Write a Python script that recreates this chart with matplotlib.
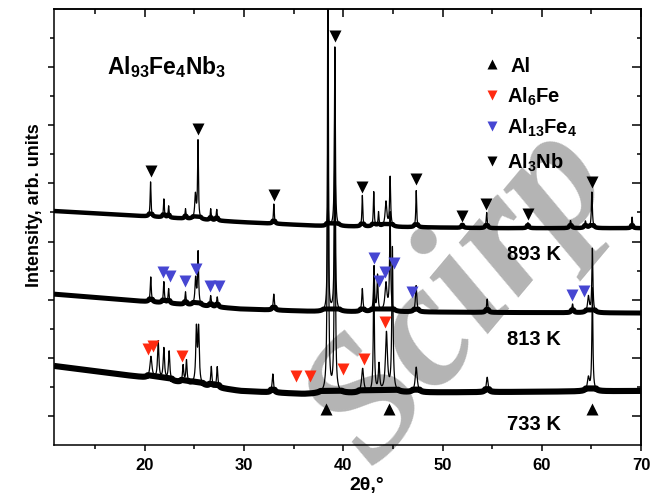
import numpy as np
import matplotlib
matplotlib.use("Agg")
import matplotlib.pyplot as plt
from matplotlib.ticker import FixedLocator

plt.rcParams['font.family'] = ['Liberation Sans', 'DejaVu Sans']
plt.rcParams['font.weight'] = 'bold'
plt.rcParams['mathtext.fontset'] = 'custom'
plt.rcParams['mathtext.rm'] = 'Liberation Sans:bold'
plt.rcParams['mathtext.bf'] = 'Liberation Sans:bold'
plt.rcParams['mathtext.it'] = 'Liberation Sans:bold'

# ---------------- data ----------------
x_min, x_max = 10.85, 70.0

# baselines (2theta, intensity) per temperature
base_893_x = [10.85, 19.5, 29.6, 38.0, 45.0, 55.0, 70.0]
base_893_y = [8.05, 7.88, 7.67, 7.53, 7.50, 7.46, 7.46]
base_813_x = [10.85, 19.5, 29.6, 38.0, 45.0, 55.0, 70.0]
base_813_y = [5.19, 4.95, 4.68, 4.58, 4.58, 4.56, 4.54]
base_733_x = [10.85, 19.5, 29.6, 36.0, 45.0, 55.0, 70.0]
base_733_y = [2.72, 2.34, 1.86, 1.75, 1.80, 1.82, 1.86]

# peaks: position (2theta), top intensity, half width
pk_893_pos = [20.58, 21.92, 22.40, 24.10, 25.10, 25.36, 26.64, 27.25, 33.00, 38.45, 39.15,
              41.92, 43.07, 43.55, 44.30, 44.72, 47.35, 52.00, 54.45, 58.60, 62.90, 64.40,
              65.05, 69.10]
pk_893_top = [9.05, 8.46, 8.22, 8.12, 8.60, 10.43, 8.12, 8.10, 8.29, 8.40, 13.69,
              8.58, 8.70, 8.00, 8.36, 9.20, 8.75, 7.62, 8.00, 7.65, 7.72, 7.70,
              8.70, 7.84]
pk_893_w = [0.05, 0.05, 0.05, 0.05, 0.08, 0.05, 0.05, 0.06, 0.05, 0.05, 0.05,
            0.05, 0.05, 0.05, 0.10, 0.06, 0.05, 0.08, 0.06, 0.08, 0.08, 0.08,
            0.06, 0.05]

pk_813_pos = [20.60, 21.92, 22.40, 24.10, 25.12, 25.37, 26.64, 27.30, 33.00, 38.45, 39.15,
              41.92, 43.10, 43.45, 44.30, 44.72, 47.34, 54.50, 63.10, 64.70, 65.10]
pk_813_top = [5.78, 5.61, 5.37, 5.26, 5.71, 6.60, 5.13, 5.09, 5.19, 12.0, 13.0,
              5.37, 6.12, 5.81, 5.54, 7.95, 5.48, 5.02, 4.85, 5.10, 6.74]
pk_813_w = [0.06, 0.06, 0.06, 0.06, 0.08, 0.06, 0.07, 0.07, 0.07, 0.05, 0.05,
            0.07, 0.06, 0.06, 0.12, 0.06, 0.08, 0.07, 0.08, 0.10, 0.06]

pk_733_pos = [20.62, 21.35, 21.92, 22.45, 23.86, 24.20, 25.20, 25.42, 26.70, 27.30, 32.90,
              38.45, 39.15, 41.95, 43.08, 43.60, 44.35, 44.95, 47.35, 54.50, 64.70, 65.10]
pk_733_top = [3.03, 3.54, 3.30, 3.20, 2.72, 2.89, 3.93, 3.93, 2.68, 2.68, 2.44,
              17.0, 11.0, 2.61, 5.90, 2.72, 3.82, 6.74, 2.67, 2.33, 2.30, 5.37]
pk_733_w = [0.12, 0.08, 0.08, 0.08, 0.07, 0.07, 0.08, 0.08, 0.07, 0.07, 0.08,
            0.055, 0.06, 0.12, 0.06, 0.08, 0.12, 0.07, 0.12, 0.10, 0.12, 0.06]

# phase markers
al_x = [38.30, 44.65, 65.10]
al_y = [1.24, 1.24, 1.24]
al6fe_x = [20.34, 20.78, 23.70, 35.27, 36.60, 40.00, 42.05, 44.25]
al6fe_y = [3.30, 3.42, 3.07, 2.36, 2.36, 2.61, 2.97, 4.22]
al13fe4_x = [21.85, 22.52, 24.10, 25.14, 26.55, 27.45, 43.14, 43.55, 44.25, 45.16, 46.90, 63.00, 64.27]
al13fe4_y = [5.94, 5.82, 5.65, 6.05, 5.47, 5.47, 6.42, 5.65, 5.94, 6.25, 5.27, 5.16, 5.31]
al3nb_x = [20.60, 25.35, 33.00, 39.15, 41.90, 47.35, 52.00, 54.40, 58.60, 65.05]
al3nb_y = [9.43, 10.87, 8.60, 14.07, 8.88, 9.15, 7.88, 8.29, 7.95, 9.05]

temps = ['893 K', '813 K', '733 K']
legend_labels = ['Al', r'$\mathregular{Al_6Fe}$', r'$\mathregular{Al_{13}Fe_4}$', r'$\mathregular{Al_3Nb}$']
sample_label = r'$\mathregular{Al_{93}Fe_4Nb_3}$'
watermark = 'Scirp'

RED = '#ff2a10'
BLUE = '#4646d2'

# ---------------- build profiles ----------------
tt = np.arange(x_min, x_max + 0.005, 0.01)

def profile(bx, by, pos, top, w):
    base = np.interp(tt, bx, by)
    y = base.copy()
    for p, t, hw in zip(pos, top, w):
        amp = t - np.interp(p, bx, by)
        y += amp * hw**2 / ((tt - p)**2 + hw**2)
    return base, y

traces = [
    profile(base_893_x, base_893_y, pk_893_pos, pk_893_top, pk_893_w),
    profile(base_813_x, base_813_y, pk_813_pos, pk_813_top, pk_813_w),
    profile(base_733_x, base_733_y, pk_733_pos, pk_733_top, pk_733_w),
]
band_lw = [3.2, 3.6, 4.4]

# ---------------- figure ----------------
fig = plt.figure(figsize=(6.63, 5.02), dpi=100)
ax = fig.add_axes([54/663, 1 - 446/502, (641-54)/663, (446-10)/502])
ax.set_facecolor('none')

# watermark (behind the axes content)
fig.text(462/663, 1 - 296/502, watermark, family='Liberation Serif', style='italic',
         weight='bold', fontsize=126, color='#b4b4b4', rotation=50,
         ha='center', va='center', zorder=-5)

for (base, y), lw in zip(traces, band_lw):
    band = np.minimum(y, base + 0.10)
    ax.plot(tt, band, color='black', lw=lw, solid_capstyle='butt', zorder=2)
    ax.plot(tt, y, color='black', lw=0.9, zorder=3)

ms = 9
ax.plot(al_x, al_y, ls='none', marker='^', ms=ms, color='black', mec='none', zorder=4)
ax.plot(al6fe_x, al6fe_y, ls='none', marker='v', ms=ms, color=RED, mec='none', zorder=4)
ax.plot(al13fe4_x, al13fe4_y, ls='none', marker='v', ms=ms, color=BLUE, mec='none', zorder=4)
ax.plot(al3nb_x, al3nb_y, ls='none', marker='v', ms=ms, color='black', mec='none', zorder=4)

ax.set_xlim(x_min, x_max)
ax.set_ylim(0, 15)

# axes styling
for s in ax.spines.values():
    s.set_linewidth(1.1)
ax.xaxis.set_major_locator(FixedLocator([20, 30, 40, 50, 60, 70]))
ax.xaxis.set_minor_locator(FixedLocator([15, 25, 35, 45, 55, 65]))
ax.yaxis.set_major_locator(FixedLocator([1, 3, 5, 7, 9, 11, 13]))
ax.yaxis.set_minor_locator(FixedLocator([2, 4, 6, 8, 10, 12, 14]))
ax.tick_params(which='both', direction='out', width=1.1, labelsize=12)
ax.tick_params(which='major', length=4.3)
ax.tick_params(which='minor', length=2.9)
ax.tick_params(axis='y', labelleft=False)
ax.tick_params(axis='x', pad=4)

secx = ax.secondary_xaxis('top')
secx.xaxis.set_major_locator(FixedLocator([20, 30, 40, 50, 60, 70]))
secx.xaxis.set_minor_locator(FixedLocator([15, 25, 35, 45, 55, 65]))
secx.tick_params(which='both', direction='in', width=1.1, labeltop=False)
secx.tick_params(which='major', length=6.0)
secx.tick_params(which='minor', length=3.4)
secx.spines['top'].set_linewidth(1.1)

secy = ax.secondary_yaxis('right')
secy.yaxis.set_major_locator(FixedLocator([1, 3, 5, 7, 9, 11, 13]))
secy.yaxis.set_minor_locator(FixedLocator([2, 4, 6, 8, 10, 12, 14]))
secy.tick_params(which='both', direction='in', width=1.1, labelright=False)
secy.tick_params(which='major', length=6.5)
secy.tick_params(which='minor', length=2.9)
secy.spines['right'].set_linewidth(1.1)

for lab in ax.get_xticklabels():
    lab.set_fontweight('bold')

# axis titles placed at their pixel centres
fig.text(367/663, 1 - 486/502, '2θ,°', fontsize=14, fontweight='bold',
         ha='center', va='center')
fig.text(35/663, 1 - 205/502, 'Intensity, arb. units', fontsize=13, fontweight='bold',
         rotation=90, ha='center', va='center')

# sample label
ax.text((107-54)/587, (446-74)/436, sample_label, transform=ax.transAxes,
        fontsize=16.5, ha='left', va='baseline', zorder=5)

# legend
leg_marker_y = [(446-65)/436, (446-96)/436, (446-127.3)/436, (446-161.7)/436]
leg_text_base = [(446-72.3)/436, (446-103)/436, (446-134)/436, (446-169)/436]
leg_text_x = [(510-54)/587, (507-54)/587, (507-54)/587, (507-54)/587]
leg_markers = ['^', 'v', 'v', 'v']
leg_colors = ['black', RED, BLUE, 'black']
for my, ty, tx, mk, c, lab in zip(leg_marker_y, leg_text_base, leg_text_x, leg_markers, leg_colors, legend_labels):
    ax.plot([(491.7-54)/587], [my], marker=mk, ms=7.4, color=c, mec='none',
            transform=ax.transAxes, clip_on=False, zorder=5)
    ax.text(tx, ty, lab, transform=ax.transAxes, fontsize=14.5, ha='left', va='baseline', zorder=5)

# temperature labels
temp_base = [(446-260)/436, (446-345)/436, (446-430)/436]
for t, yb in zip(temps, temp_base):
    ax.text((507-54)/587, yb, t, transform=ax.transAxes, fontsize=14.5,
            fontweight='bold', ha='left', va='baseline', zorder=5)

fig.savefig('out.png', dpi=100)
